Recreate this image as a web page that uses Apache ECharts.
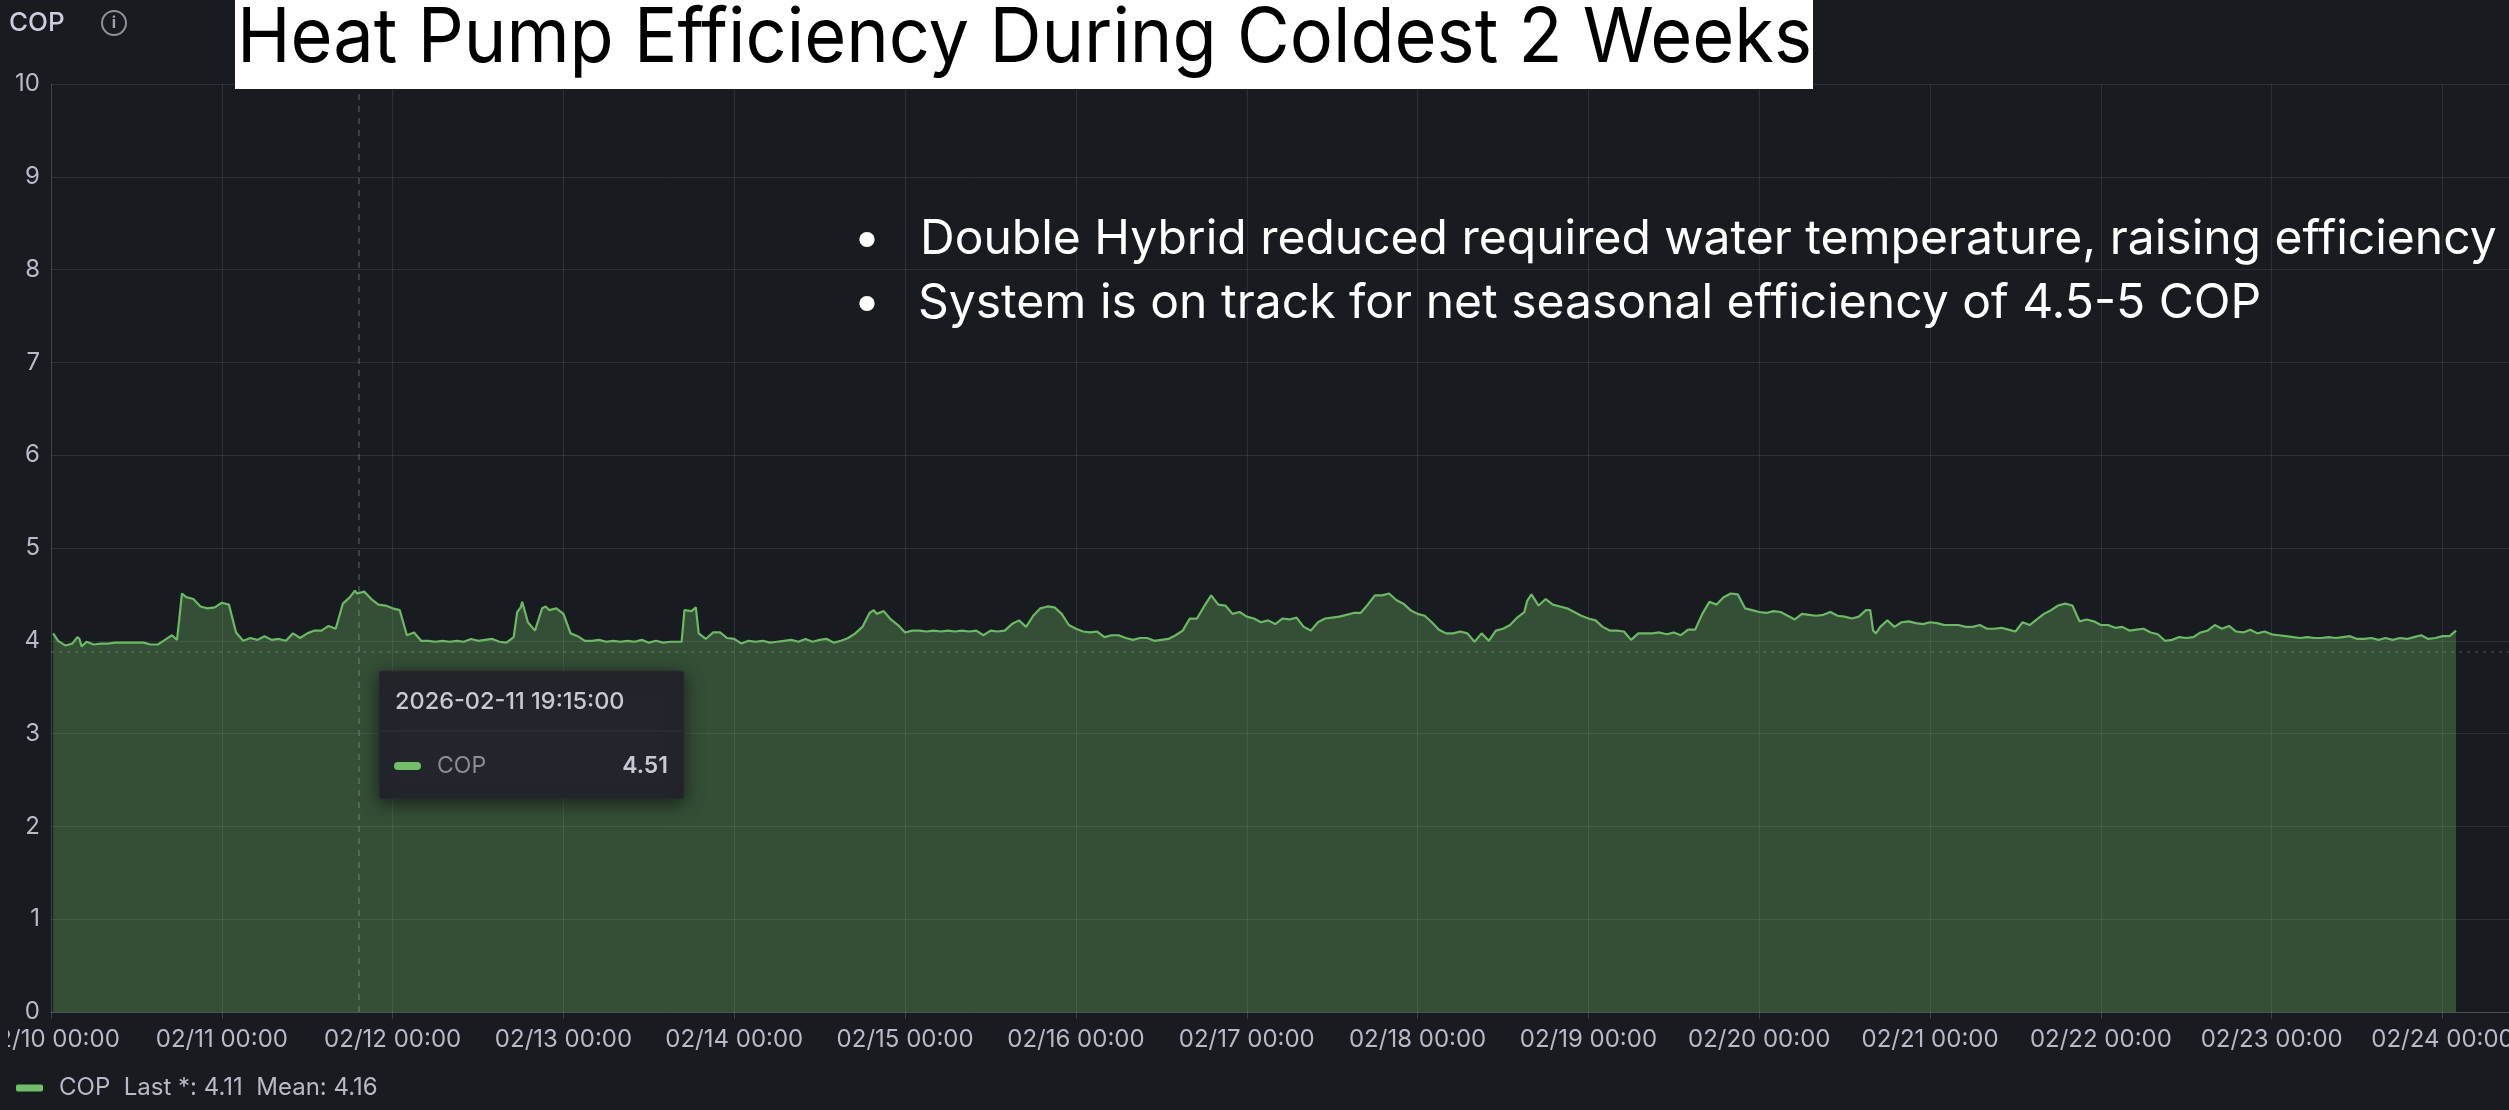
<!DOCTYPE html>
<html><head><meta charset="utf-8">
<style>html,body{margin:0;padding:0;background:#181b20}#c{width:2509px;height:1110px}</style>
<script src="https://cdn.jsdelivr.net/npm/echarts@6/dist/echarts.min.js"></script>
</head><body><div id="c"></div>
<script>
const pageTitle = 'Heat Pump Efficiency During Coldest 2 Weeks';
const bullets = ['Double Hybrid reduced required water temperature, raising efficiency','System is on track for net seasonal efficiency of 4.5-5 COP'];
const seriesName = 'COP';
const legendText = 'COP  Last *: 4.11  Mean: 4.16';
const tooltipTime = '2026-02-11 19:15:00';
const tooltipValue = '4.51';
const tooltipHour = 43.25;
const dottedLevel = 3.88;
const dayLabels = ['02/10','02/11','02/12','02/13','02/14','02/15','02/16','02/17','02/18','02/19','02/20','02/21','02/22','02/23','02/24'];
const yTicks = [0,1,2,3,4,5,6,7,8,9,10];
// hourly readings, one list per day (hour 0..23)
const feb10 = [null,4.00,3.95,3.97,4.02,3.99,3.96,3.97,3.97,3.98,3.98,3.98,3.98,3.98,3.96,3.96,4.01,4.06,4.22,4.47,4.45,4.37,4.35,4.36];
const feb11 = [4.41,4.39,4.09,4.00,4.03,4.01,4.05,4.01,4.02,4.00,4.08,4.03,4.08,4.11,4.11,4.16,4.13,4.40,4.47,4.51,4.53,4.45,4.39,4.38];
const feb12 = [4.35,4.33,4.06,4.09,4.00,4.00,3.99,4.00,3.99,4.00,3.99,4.02,4.00,4.01,4.02,3.99,3.98,4.04,4.36,4.20,4.11,4.35,4.33,4.35];
const feb13 = [4.29,4.08,4.05,4.00,4.00,4.01,3.99,4.00,3.99,4.00,3.99,4.01,3.98,4.00,3.98,3.99,3.99,4.33,4.32,4.08,4.02,4.09,4.09,4.03];
const feb14 = [4.02,3.97,4.00,3.99,4.00,3.98,3.99,4.00,4.01,3.99,4.02,3.99,4.01,4.02,3.98,4.00,4.03,4.08,4.15,4.30,4.29,4.32,4.23,4.17];
const feb15 = [4.09,4.11,4.11,4.10,4.11,4.10,4.11,4.10,4.11,4.10,4.11,4.06,4.11,4.10,4.11,4.18,4.22,4.15,4.27,4.35,4.37,4.36,4.29,4.17];
const feb16 = [4.13,4.10,4.09,4.10,4.04,4.06,4.06,4.03,4.01,4.03,4.03,4.00,4.01,4.02,4.06,4.11,4.24,4.24,4.37,4.49,4.39,4.38,4.29,4.31];
const feb17 = [4.26,4.24,4.20,4.22,4.18,4.24,4.23,4.25,4.15,4.11,4.20,4.24,4.25,4.26,4.28,4.30,4.30,4.39,4.49,4.49,4.51,4.44,4.40,4.33];
const feb18 = [4.29,4.27,4.20,4.12,4.08,4.08,4.10,4.08,3.99,4.08,4.00,4.11,4.13,4.17,4.25,4.31,4.50,4.38,4.45,4.39,4.37,4.35,4.31,4.27];
const feb19 = [4.24,4.22,4.15,4.11,4.11,4.10,4.01,4.08,4.08,4.08,4.09,4.07,4.09,4.06,4.12,4.12,4.29,4.42,4.39,4.47,4.51,4.50,4.35,4.33];
const feb20 = [4.31,4.30,4.32,4.31,4.27,4.23,4.29,4.28,4.27,4.28,4.31,4.27,4.26,4.24,4.26,4.33,4.11,4.15,4.22,4.15,4.20,4.21,4.19,4.18];
const feb21 = [4.20,4.19,4.17,4.17,4.17,4.15,4.15,4.17,4.13,4.13,4.14,4.12,4.10,4.20,4.17,4.23,4.29,4.33,4.38,4.40,4.38,4.21,4.23,4.21];
const feb22 = [4.17,4.17,4.14,4.15,4.11,4.12,4.13,4.09,4.07,4.00,4.01,4.04,4.03,4.04,4.09,4.11,4.17,4.13,4.16,4.10,4.09,4.12,4.08,4.10];
const feb23 = [4.07,4.06,4.05,4.04,4.03,4.04,4.03,4.03,4.04,4.03,4.04,4.05,4.02,4.02,4.03,4.01,4.03,4.01,4.03,4.02,4.04,4.06,4.02,4.03];
const feb24 = [4.05,4.05];
// readings between the hours, where the trace moves sharply
const extraHours  = [0.3,3.7,4.3,17.7,18.4,42.7,65.5,66.2,69.5,88.6,90.6,115.6,207.4,255.6,256.4,337.9];
const extraValues = [4.08,4.04,3.94,4.01,4.51,4.54,4.31,4.42,4.37,3.99,4.36,4.33,4.43,4.33,4.08,4.11];

const days = [feb10,feb11,feb12,feb13,feb14,feb15,feb16,feb17,feb18,feb19,feb20,feb21,feb22,feb23,feb24];
const points = [];
days.forEach((d,i)=>d.forEach((v,h)=>{ if(v!==null) points.push([i*24+h,v]); }));
extraHours.forEach((h,i)=>points.push([h,extraValues[i]]));
points.sort((a,b)=>a[0]-b[0]);

const BG='#181b20', TXT='#b9b9c8', FONT='Inter';
const chart = echarts.init(document.getElementById('c'));
chart.setOption({
  animation:false,
  backgroundColor:BG,
  textStyle:{fontFamily:FONT},
  grid:{left:51,right:0,top:84,bottom:98,containLabel:false,outerBoundsMode:'none'},
  legend:{show:true,left:11,top:1071,icon:'roundRect',itemWidth:27,itemHeight:7,itemGap:10,
    data:[seriesName],formatter:()=>legendText,
    textStyle:{color:TXT,fontSize:24,fontFamily:FONT,padding:[0,0,0,11]}},
  xAxis:{type:'value',min:0,max:345.34,interval:24,
    axisLine:{show:true,onZero:true,lineStyle:{color:'rgba(204,204,220,0.2)',width:1}},
    axisTick:{show:true,length:7,lineStyle:{color:'rgba(204,204,220,0.2)'}},
    splitLine:{show:true,lineStyle:{color:'rgba(204,204,220,0.12)',width:1}},
    axisLabel:{show:true,showMinLabel:true,showMaxLabel:false,hideOverlap:false,color:TXT,fontSize:24,fontFamily:FONT,margin:16,
      formatter:v=>{const i=v/24;return Number.isInteger(i)&&dayLabels[i]?dayLabels[i]+' 00:00':'';}}},
  yAxis:{type:'value',min:yTicks[0],max:yTicks[yTicks.length-1],interval:1,
    axisLine:{show:true,lineStyle:{color:'rgba(204,204,220,0.12)'}},axisTick:{show:false},
    splitLine:{show:true,lineStyle:{color:'rgba(204,204,220,0.12)',width:1}},
    axisLabel:{color:TXT,fontSize:24,fontFamily:FONT,margin:11}},
  series:[{name:seriesName,type:'line',data:points,symbol:'none',smooth:false,
    lineStyle:{color:'#6cb865',width:2.2},itemStyle:{color:'#73bf69'},
    areaStyle:{color:'#73bf69',opacity:0.32},
    markLine:{silent:true,symbol:'none',label:{show:false},animation:false,
      data:[{xAxis:tooltipHour,lineStyle:{color:'rgba(204,204,220,0.28)',type:[6,6],width:1.5}},
            {yAxis:dottedLevel,lineStyle:{color:'rgba(204,204,220,0.22)',type:[3,5],width:1.5}}]}}],
  graphic:[
    {type:'rect',z:100,shape:{x:0,y:1016,width:8,height:50},style:{fill:BG}},
    {type:'text',z:100,style:{x:9,y:23,text:seriesName,fill:'#ccccdc',font:'500 26px Inter',verticalAlign:'middle'}},
    {type:'circle',z:100,shape:{cx:114,cy:23,r:12},style:{fill:'none',stroke:'#8f9099',lineWidth:2}},
    {type:'text',z:100,style:{x:114,y:23,text:'i',fill:'#a0a0aa',font:'700 16px Inter',align:'center',verticalAlign:'middle'}},
    {type:'rect',z:100,shape:{x:235,y:0,width:1578,height:89},style:{fill:'#ffffff'}},
    {type:'text',z:101,x:237,y:39,originX:0,originY:0,scaleX:0.949,style:{x:0,y:0,text:pageTitle,fill:'#000000',font:'400 76px Inter',verticalAlign:'middle'}},
    {type:'text',z:100,style:{x:867,y:239,text:'•',fill:'#ffffff',font:'400 48px Inter',align:'center',verticalAlign:'middle'}},
    {type:'text',z:100,style:{x:920,y:240,text:bullets[0],fill:'#ffffff',font:'400 48px Inter',verticalAlign:'middle'}},
    {type:'text',z:100,style:{x:867,y:303,text:'•',fill:'#ffffff',font:'400 48px Inter',align:'center',verticalAlign:'middle'}},
    {type:'text',z:100,style:{x:918,y:304,text:bullets[1],fill:'#ffffff',font:'400 48px Inter',verticalAlign:'middle'}},
    {type:'rect',z:110,shape:{x:379,y:671,width:305,height:128,r:3},style:{fill:'#22252b',stroke:'#2c2f36',lineWidth:1,shadowBlur:18,shadowColor:'rgba(0,0,0,0.55)',shadowOffsetY:4}},
    {type:'line',z:111,shape:{x1:379,y1:731,x2:684,y2:731},style:{stroke:'#2d3037',lineWidth:1.5}},
    {type:'text',z:111,style:{x:395,y:702,text:tooltipTime,fill:'#c9c9d6',font:'500 23.5px Inter',verticalAlign:'middle'}},
    {type:'rect',z:111,shape:{x:394,y:762,width:27,height:8,r:4},style:{fill:'#73bf69'}},
    {type:'text',z:111,style:{x:437,y:766,text:seriesName,fill:'#8b8c96',font:'400 23px Inter',verticalAlign:'middle'}},
    {type:'text',z:111,style:{x:668,y:766,text:tooltipValue,fill:'#c9c9d6',font:'600 23px Inter',align:'right',verticalAlign:'middle'}}
  ]
});
</script></body></html>
